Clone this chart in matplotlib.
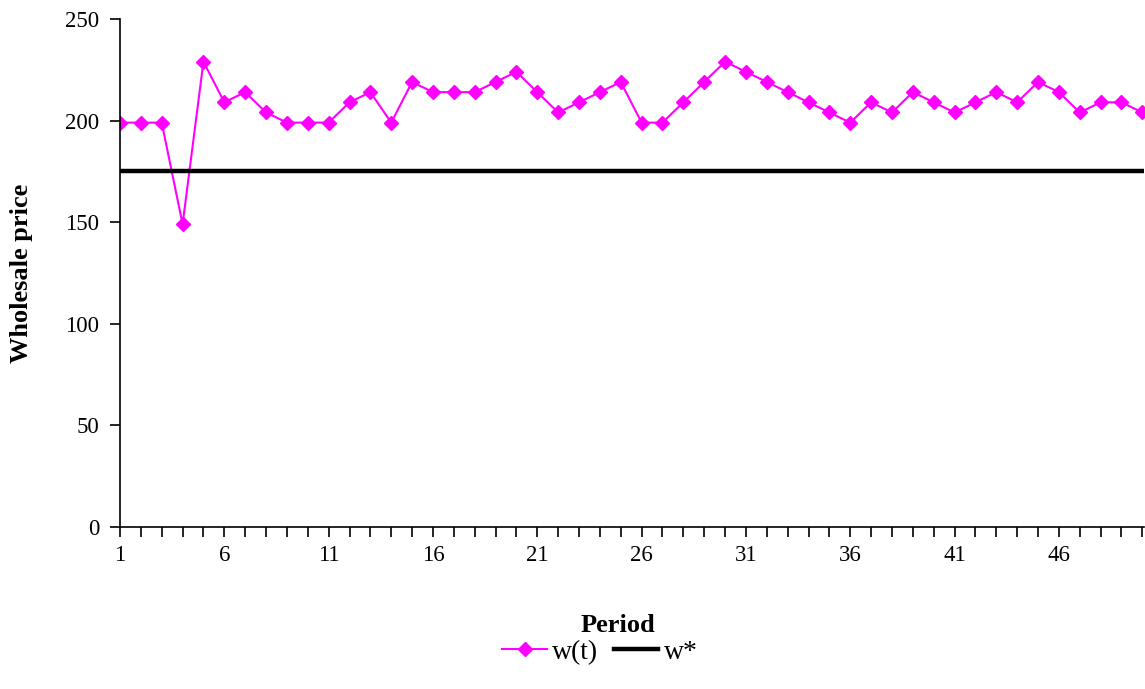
import matplotlib.pyplot as plt

# donnees
periodes = list(range(1, 51))
prix_gros = [199, 199, 199, 149, 229, 209, 214, 204, 199, 199,
             199, 209, 214, 199, 219, 214, 214, 214, 219, 224,
             214, 204, 209, 214, 219, 199, 199, 209, 219, 229,
             224, 219, 214, 209, 204, 199, 209, 204, 214, 209,
             204, 209, 214, 209, 219, 214, 204, 209, 209, 204]
w_etoile = 175
yticks = [0, 50, 100, 150, 200, 250]
xticks_labels = list(range(1, 51, 5))

plt.rcParams['font.family'] = ['Liberation Serif', 'DejaVu Serif']

fig = plt.figure(figsize=(11.45, 6.89), dpi=100)
ax = fig.add_axes([120 / 1145, 1 - 527 / 689, 1 - 120 / 1145 - 0.0005, (527 - 19) / 689])

ax.plot(periodes, prix_gros, color='#ff00ff', lw=1.5, marker='D', ms=7,
        label='w(t)')
ax.axhline(w_etoile, color='black', lw=3.2, label='w*')

ax.set_xlim(1, 50.1)
ax.set_ylim(0, 250)
ax.set_yticks(yticks)
ax.set_xticks(periodes, minor=False)
ax.set_xticklabels([str(p) if p in xticks_labels else '' for p in periodes])
ax.tick_params(axis='both', direction='out', length=7, width=1.2, labelsize=16.5)
ax.tick_params(axis='y', pad=8)
ax.tick_params(axis='x', pad=6)

for s in ['top', 'right']:
    ax.spines[s].set_visible(False)
for s in ['left', 'bottom']:
    ax.spines[s].set_linewidth(1.2)

fig.text(22 / 1145, 1 - 273 / 689, 'Wholesale price', fontsize=19, fontweight='bold',
         rotation=90, ha='center', va='center')
fig.text(618 / 1145, 1 - 626 / 689, 'Period', fontsize=19, fontweight='bold',
         ha='center', va='center')

fig.legend(loc='center', bbox_to_anchor=(600 / 1145, 1 - 652 / 689), ncol=2,
           frameon=False, fontsize=20, handlelength=1.6, handletextpad=0.2,
           columnspacing=0.55)

fig.savefig('out.png', dpi=100)
